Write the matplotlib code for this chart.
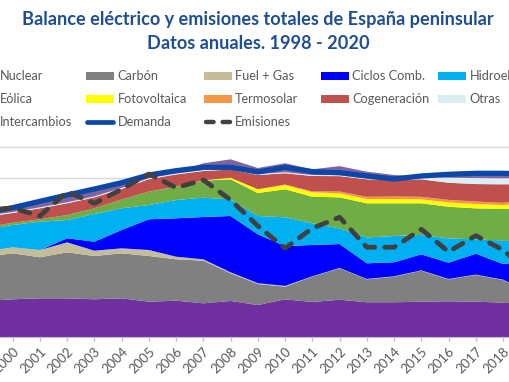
import numpy as np
import matplotlib.pyplot as plt
from matplotlib.patches import Rectangle
from matplotlib.lines import Line2D

plt.rcParams['font.family'] = ['Lato', 'DejaVu Sans']

# datos anuales (TWh y Mt CO2, leidos a ojo del grafico)
years = list(range(1998, 2021))

nuclear = [57.6, 57.6, 60.3, 61.9, 61.9, 60.3, 61.9, 56.5, 58.1, 53.9, 57.6, 51.2,
           60.3, 56.0, 59.7, 55.5, 55.5, 56.5, 57.1, 56.5, 54.9, 56.8, 55.2]
carbon = [72.0, 70.6, 73.6, 65.6, 73.6, 69.3, 72.0, 73.1, 66.2, 68.2, 44.3, 33.6,
          20.2, 40.5, 50.2, 36.8, 41.0, 49.6, 35.2, 42.7, 36.3, 13.6, 8.8]
fuel_gas = [8.0, 8.5, 9.6, 11.7, 16.0, 8.5, 8.0, 9.6, 4.2, 2.2, 1.6, 1.3,
            1.3, 0.6, 0.6, 0.6, 0.6, 0.6, 0.6, 0.6, 0.6, 0.6, 0.6]
ciclos = [0.0, 0.0, 0.0, 0.0, 6.4, 14.4, 29.3, 49.1, 61.4, 67.7, 90.1, 78.2,
          63.8, 50.1, 38.2, 25.0, 22.4, 25.6, 25.9, 33.4, 25.0, 50.6, 40.0]
hidro = [35.2, 34.7, 35.7, 45.3, 29.3, 44.3, 34.7, 22.9, 29.3, 30.9, 26.4, 29.3,
         45.9, 34.7, 25.1, 41.3, 42.1, 30.9, 39.0, 23.0, 37.6, 29.6, 34.6]
eolica = [1.6, 3.7, 3.7, 3.8, 8.0, 9.1, 14.1, 21.3, 21.3, 27.2, 32.3, 36.8,
          44.8, 42.6, 49.6, 54.7, 52.3, 50.7, 50.6, 49.6, 50.4, 55.2, 54.4]
fotovoltaica = [0.0, 0.0, 0.0, 0.0, 0.0, 0.0, 0.0, 0.1, 0.1, 0.5, 2.4, 6.0,
                6.9, 7.0, 6.4, 6.9, 6.9, 6.4, 7.0, 6.9, 6.4, 8.0, 13.0]
termosolar = [0.0, 0.0, 0.0, 0.0, 0.0, 0.0, 0.0, 0.0, 0.0, 0.0, 0.0, 0.1,
              0.7, 1.5, 3.0, 3.5, 4.0, 4.0, 4.0, 4.0, 3.5, 4.0, 3.5]
cogeneracion = [17.0, 17.0, 15.5, 17.6, 18.7, 17.6, 16.8, 20.0, 19.5, 15.0, 13.3, 22.7,
                18.1, 24.6, 24.6, 28.0, 26.4, 28.0, 27.4, 28.0, 29.6, 26.4, 28.3]
otras = [1.6, 1.6, 1.6, 1.6, 1.6, 1.6, 1.6, 1.6, 1.6, 1.6, 1.6, 1.6,
         1.6, 1.6, 1.6, 1.6, 2.4, 4.0, 8.0, 9.6, 9.6, 9.6, 9.6]
intercambios = [0.6, 3.2, 4.5, 7.2, 9.3, 9.3, 6.1, 2.7, 2.4, 10.7, 14.7, 9.6,
                14.4, 9.1, 14.4, 10.6, 5.6, 0.5, 3.0, 5.1, 5.6, 4.0, 0.5]
demanda = [195.2, 199.0, 206.9, 217.1, 227.2, 236.8, 246.9, 259.2, 266.1, 271.5, 271.5, 264.0,
           271.5, 264.5, 262.9, 257.6, 252.8, 257.6, 260.3, 261.9, 261.9, 260.8, 248.0]
emisiones = [84.1, 87.5, 89.0, 83.4, 100.2, 92.2, 101.9, 112.4, 103.0, 108.3, 94.5, 76.6,
             61.2, 75.0, 82.6, 61.9, 61.9, 74.3, 58.8, 69.9, 60.0, 44.1, 32.4]

layers = [nuclear, carbon, fuel_gas, ciclos, hidro, eolica, fotovoltaica,
          termosolar, cogeneracion, otras, intercambios]
colors = ['#7030A0', '#808080', '#C4BD97', '#0000FF', '#00B0F0', '#70AD47',
          '#FFFF00', '#F79646', '#C0504D', '#DAEEF3', '#8064A2']
labels = ['Nuclear', 'Carbón', 'Fuel + Gas', 'Ciclos Comb.', 'Hidroeléctrica',
          'Eólica', 'Fotovoltaica', 'Termosolar', 'Cogeneración', 'Otras',
          'Intercambios', 'Demanda', 'Emisiones']
c_dem = '#0A47A9'
c_emi = '#404040'

W, H = 510, 382
fig = plt.figure(figsize=(W / 100, H / 100), dpi=100)


def fx(px):
    return px / W


def fy(py):
    return 1 - py / H


ymax = 310
y_px = 1.6       # TWh por pixel
ax = fig.add_axes([fx(-41.8), fy(337), fx(599.3), ymax / y_px / H])

ax.stackplot(years, layers, colors=colors, linewidth=0)
ax.plot(years, demanda, color=c_dem, lw=3.8, solid_joinstyle='round', zorder=5)

ax.set_xlim(1998, 2020)
ax.set_ylim(0, ymax)
ax.set_yticks([304 - 49.6 * k for k in range(6)])
ax.yaxis.grid(True, color='#D9D9D9', lw=1.0)
ax.set_axisbelow(True)
ax.tick_params(axis='y', length=0, labelleft=False)
ax.set_xticks(years)
# solo se ven los años 2000-2019 (el grafico original esta recortado)
ax.set_xticklabels([str(y) if 2000 <= y <= 2019 else '' for y in years],
                   rotation=45, ha='right', rotation_mode='anchor',
                   fontsize=9.5, color='#595959')
ax.tick_params(axis='x', direction='out', length=3, width=1, color='#BFBFBF', pad=3)
for s in ['left', 'right', 'top']:
    ax.spines[s].set_visible(False)
ax.spines['bottom'].set_color('#BFBFBF')

ax2 = ax.twinx()
ax2.plot(years, emisiones, color=c_emi, lw=3.4, dashes=(2.3, 2.1),
         dash_capstyle='round', zorder=6)
ax2.set_ylim(0, ymax / y_px / 1.45)
ax2.axis('off')

# titulo
fig.text(fx(258), fy(20), 'Balance eléctrico y emisiones totales de España peninsular',
         ha='center', va='center', fontsize=13.1, fontweight='bold', color='#1F4E96')
fig.text(fx(258), fy(43.5), 'Datos anuales. 1998 - 2020',
         ha='center', va='center', fontsize=13.1, fontweight='bold', color='#1F4E96')

# leyenda
rows = [76, 99, 122.3]
for i, lab in enumerate(labels):
    r, c = divmod(i, 5)
    x0 = -31 + 117.3 * c
    yc = rows[r]
    if i < len(colors):
        fig.add_artist(Rectangle((fx(x0), fy(yc + 3.5)), fx(28), 7 / H,
                                 transform=fig.transFigure, color=colors[i], lw=0))
    elif lab == 'Demanda':
        fig.add_artist(Line2D([fx(x0 + 1), fx(x0 + 27)], [fy(yc), fy(yc)],
                              transform=fig.transFigure, color=c_dem, lw=3.4,
                              solid_capstyle='round'))
    else:
        fig.add_artist(Line2D([fx(x0 + 2), fx(x0 + 26.5)], [fy(yc), fy(yc)],
                              transform=fig.transFigure, color=c_emi, lw=3.2,
                              dashes=(1.7, 2.05), dash_capstyle='round'))
    fig.text(fx(x0 + 31.3), fy(yc), lab, ha='left', va='center',
             fontsize=9.2, color='#595959')

fig.savefig('out.png', dpi=100)
